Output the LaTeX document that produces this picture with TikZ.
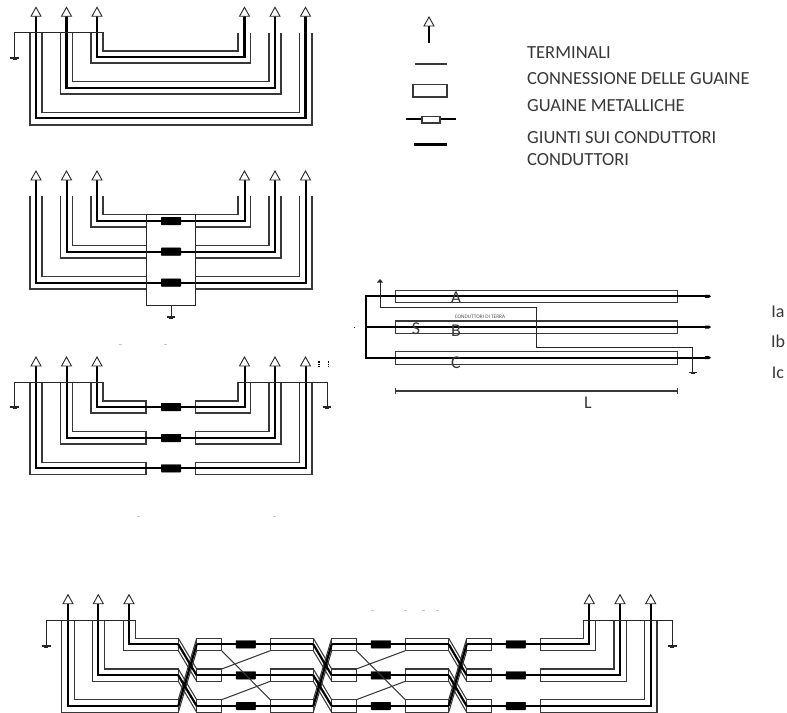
\documentclass[tikz,border=0pt]{standalone}
\usepackage{fontspec}
\setmainfont{Carlito}
\tikzset{
  sheath/.style={draw=black!78,line width=1.05bp,line join=miter},
  wire/.style={draw=black,line width=2.2bp,line join=miter},
  thin wire/.style={draw=black!85,line width=0.95bp},
  jointbox/.style={fill=black,draw=black,line width=0.4bp,rounded corners=0.6bp},
  term/.style={fill=white,draw=black!85,line width=0.9bp,line join=miter},
  txt/.style={anchor=west,inner sep=0pt,yshift=-0.8bp,text=black!78,font=\fontsize{18.5bp}{20bp}\selectfont},
  letter/.style={inner sep=0pt,yshift=-0.8bp,text=black!78,font=\fontsize{18bp}{20bp}\selectfont},
  speck/.style={draw=black!22,line width=0.6bp}
}
% terminal: arrow triangle with its tip at (x,y)
\newcommand{\terminal}[2]{\draw[term] (#1,#2) -- (#1+5,#2+9) -- (#1-5,#2+9) -- cycle;}
% earth symbol at (x,y)
\newcommand{\earth}[2]{%
  \draw[draw=black!85,line width=1.1bp] (#1-4.2,#2) -- (#1+4.2,#2);
  \draw[draw=black!85,line width=1bp] (#1-2,#2+1.2) -- (#1+2,#2+1.2);}
\newcommand{\joint}[2]{\draw[jointbox] (#1-9.8,#2-3.8) rectangle (#1+9.8,#2+3.8);}
\begin{document}
\begin{tikzpicture}[x=1bp,y=-1bp]
\useasboundingbox (0,0) rectangle (787,713);

% ---------- panel 1 ----------
\foreach \lo/\la/\li/\ri/\ra/\ro/\it/\cy/\ot in
  {91/97/103/238/244.5/250.5/51/57/63,
   60.5/66.5/72.5/269/275/281/81.5/88/94,
   30/36/42/299.5/305.5/312/112.5/118/125}{
  \draw[sheath] (\li,32.5) -- (\li,\it) -- (\ri,\it) -- (\ri,33);
  \draw[sheath] (\lo,32.5) -- (\lo,\ot) -- (\ro,\ot) -- (\ro,33);
  \draw[wire] (\la,16) -- (\la,\cy) -- (\ra,\cy) -- (\ra,16);
  \terminal{\la}{7.3}
  \terminal{\ra}{7.3}
}
\draw[thin wire] (14.5,58) -- (14.5,32.5) -- (103,32.5);
\earth{14.5}{58}

% ---------- panel 2 ----------
\foreach \lo/\la/\li/\ri/\ra/\ro/\it/\cy/\ot in
  {91/97/103/238/244.5/250.5/214.5/221/227,
   60.5/66.5/72.5/269/275/281/245.7/251.7/258,
   30/36/42/299.5/305.5/312/276.3/282.7/289}{
  \draw[sheath] (\li,196) -- (\li,\it) -- (146,\it);
  \draw[sheath] (\lo,196) -- (\lo,\ot) -- (146,\ot);
  \draw[sheath] (\ri,196) -- (\ri,\it) -- (195.5,\it);
  \draw[sheath] (\ro,196) -- (\ro,\ot) -- (195.5,\ot);
  \draw[wire,line width=2bp] (\la,180) -- (\la,\cy) -- (\ra,\cy) -- (\ra,180);
  \joint{171}{\cy}
  \terminal{\la}{171}
  \terminal{\ra}{171}
}
\draw[thin wire] (146,214.5) rectangle (195.5,305);
\draw[thin wire] (171,305) -- (171,317);
\earth{171}{317}

% ---------- panel 3 ----------
\foreach \lo/\la/\li/\ri/\ra/\ro/\it/\cy/\ot in
  {91/97/103/238/244.5/250.5/401/407/413,
   60.5/66.5/72.5/269/275/281/431.7/438/444,
   30/36/42/299.5/305.5/312/462.3/468.3/474.7}{
  \draw[sheath] (\li,382.3) -- (\li,\it) -- (146,\it) -- (146,\ot) -- (\lo,\ot) -- (\lo,382.3);
  \draw[sheath] (\ri,382.3) -- (\ri,\it) -- (195.5,\it) -- (195.5,\ot) -- (\ro,\ot) -- (\ro,382.3);
  \draw[wire,line width=2bp] (\la,366) -- (\la,\cy) -- (\ra,\cy) -- (\ra,366);
  \joint{171}{\cy}
  \terminal{\la}{357}
  \terminal{\ra}{357}
}
\draw[thin wire] (14.5,407) -- (14.5,382.3) -- (103,382.3);
\draw[thin wire] (327,407) -- (327,382.3) -- (238,382.3);
\earth{14.5}{407}
\earth{327}{407}
\draw[draw=black,line width=1.2bp,dash pattern=on 1.6bp off 1bp] (319,361) -- (319,367);
\draw[draw=black,line width=1.2bp,dash pattern=on 1.6bp off 1bp] (328.3,361) -- (328.3,367);
\foreach \sx/\sy in {120/344,165/344,138/516,274/516,372/610,405/610,423/610,437/610}{
  \draw[speck] (\sx-1.5,\sy) -- (\sx+1.5,\sy);
}

% ---------- legend ----------
\draw[wire,line width=1.9bp] (429,26) -- (429,43);
\terminal{429}{17}
\draw[sheath] (414.5,64) -- (447,64);
\draw[sheath] (413,84.5) rectangle (447,97);
\draw[wire,line width=2bp] (406,119.5) -- (456,119.5);
\draw[sheath,fill=white] (422,116.5) rectangle (440,123);
\draw[wire,line width=2bp] (414,144.5) -- (447,144.5);
\node[txt] (t1) at (527,52) {TERMINALI};
\node[txt] (t2) at (527,78) {CONNESSIONE DELLE GUAINE};
\node[txt] (t3) at (527,105) {GUAINE METALLICHE};
\node[txt] (t4) at (527,136.5) {GIUNTI SUI CONDUTTORI};
\node[txt] (t5) at (527,159) {CONDUTTORI};

% ---------- panel 4 ----------
\foreach \t/\c/\b in {290.3/296.3/302.3,321/327/333.3,351.7/357.7/364.3}{
  \draw[sheath] (395.3,\t) rectangle (677.7,\b);
  \draw[wire] (365.7,\c) -- (705,\c);
  \fill[black] (705,\c-1.5) -- (709,\c-1.5) -- (711,\c) -- (709,\c+1.5) -- (705,\c+1.5) -- cycle;
}
\draw[wire] (365.7,295.2) -- (365.7,358.8);
\draw[thin wire] (380,282) -- (380,307) -- (536.7,307) -- (536.7,347) -- (692.7,347) -- (692.7,372.7);
\fill[black!85] (380,279) -- (383,282.5) -- (377,282.5) -- cycle;
\earth{692.7}{372.7}
\fill[black] (353.5,326.5) rectangle (355,328);
\node[letter] (la) at (456,297) {A};
\node[letter] (lb) at (456,330) {B};
\node[letter] (lc) at (456,362) {C};
\node[letter] (ls) at (416,328) {S};
\node[inner sep=0pt,text=black!70,font=\fontsize{5.3bp}{6bp}\selectfont] (lt) at (480,317) {CONDUTTORI DI TERRA};
\node[letter] (ia) at (778,311) {Ia};
\node[letter] (ib) at (778,341) {Ib};
\node[letter] (ic) at (778,372) {Ic};
\draw[sheath] (395.3,391) -- (677.7,391);
\draw[sheath] (395.3,388) -- (395.3,394);
\draw[sheath] (677.7,388) -- (677.7,394);
\node[letter] (ll) at (588,401.7) {L};

% ---------- panel 5 ----------
% terminals and bends, left
\foreach \lo/\la/\li/\it/\cy/\ot in
  {123.3/129/135.7/638.3/644.3/650.7,
   92.3/98.3/104.7/669/675.3/681.3,
   61.7/68/74.3/699.7/706/712.3}{
  \draw[sheath] (\li,620) -- (\li,\it) -- (178.3,\it) -- (178.3,\ot) -- (\lo,\ot) -- (\lo,620);
  \draw[wire] (\la,604) -- (\la,\cy) -- (178.3,\cy);
  \terminal{\la}{594.7}
}
% terminals and bends, right
\foreach \ro/\ra/\ri/\it/\cy/\ot in
  {595.7/589.3/583.3/638.3/644.3/650.7,
   626.3/620/614/669/675.3/681.3,
   657/650.7/644.7/699.7/706/712.3}{
  \draw[sheath] (\ri,620) -- (\ri,\it) -- (540.3,\it) -- (540.3,\ot) -- (\ro,\ot) -- (\ro,620);
  \draw[wire] (\ra,604) -- (\ra,\cy) -- (540.3,\cy);
  \terminal{\ra}{594.7}
}
\draw[thin wire] (46.3,646) -- (46.3,620) -- (135.7,620);
\draw[thin wire] (583.3,620) -- (672.3,620) -- (672.3,646);
\earth{46.3}{646}
\earth{672.3}{646}
% sheath sections and straight conductors
\foreach \it/\cy/\ot in {638.3/644.3/650.7,669/675.3/681.3,699.7/706/712.3}{
  \foreach \xa/\xb in {196.7/221.7,270.3/313.3,331.7/356.3,405.3/448.7,466.7/491.3}{
    \draw[sheath] (\xa,\it) rectangle (\xb,\ot);
  }
  \draw[wire] (196.7,\cy) -- (313.3,\cy);
  \draw[wire] (331.7,\cy) -- (448.7,\cy);
  \draw[wire] (466.7,\cy) -- (540.3,\cy);
  \joint{245.8}{\cy}
  \joint{380.8}{\cy}
  \joint{515.8}{\cy}
}
% transpositions
\foreach \xa/\xb in {178.3/196.7,313.3/331.7,448.7/466.7}{
  \draw[sheath] (\xa,638.3) -- (\xb,669);
  \draw[sheath] (\xa,650.7) -- (\xb,681.3);
  \draw[sheath] (\xa,669) -- (\xb,699.7);
  \draw[sheath] (\xa,681.3) -- (\xb,712.3);
  \draw[sheath] (\xa,699.7) -- (\xb,638.3);
  \draw[sheath] (\xa,712.3) -- (\xb,650.7);
  \draw[wire] (\xa,644.3) -- (\xb,675.3);
  \draw[wire] (\xa,675.3) -- (\xb,706);
  \draw[wire] (\xa,706) -- (\xb,644.3);
}
% sheath cross-bonding
\foreach \xa/\xb in {221.7/270.3,356.3/405.3}{
  \draw[sheath] (\xa,650.7) -- (\xb,699.7);
  \draw[sheath] (\xa,669) -- (\xb,650.7);
  \draw[sheath] (\xa,699.7) -- (\xb,681.3);
}
\end{tikzpicture}
\end{document}
